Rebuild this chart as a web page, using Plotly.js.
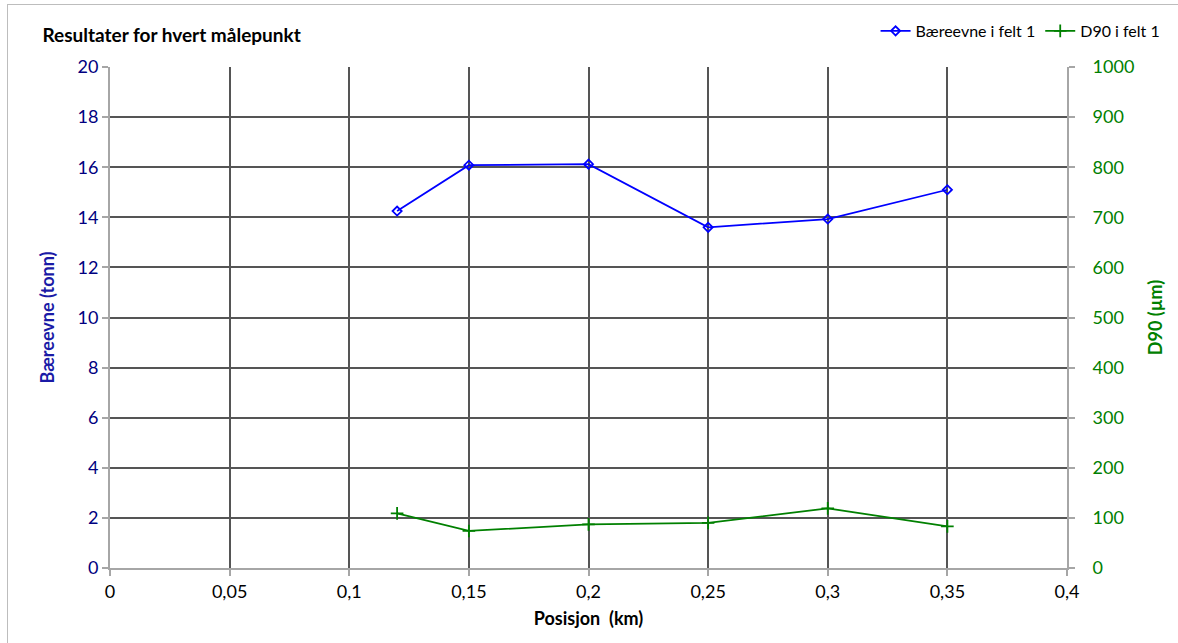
<!DOCTYPE html>
<html>
<head>
<meta charset="utf-8">
<script src="https://cdn.plot.ly/plotly-3.0.1.min.js"></script>
<style>
html,body{margin:0;padding:0;background:#fff;}
#wrap{position:relative;width:1178px;height:643px;overflow:hidden;}
#chart{position:absolute;left:0;top:0;width:1178px;height:643px;}
#frame{position:absolute;left:7px;top:4px;width:1300px;height:800px;border:1px solid #bdbdbd;pointer-events:none;}
</style>
</head>
<body>
<div id="wrap"><div id="chart"></div><div id="frame"></div></div>
<script>
const positions = [0.12, 0.15, 0.2, 0.25, 0.3, 0.35];
const baereevne = [14.25, 16.08, 16.12, 13.6, 13.93, 15.1];
const d90 = [109, 74, 87, 90, 119, 83];
const xTicks = [0, 0.05, 0.1, 0.15, 0.2, 0.25, 0.3, 0.35, 0.4];
const yLeftTicks = [0, 2, 4, 6, 8, 10, 12, 14, 16, 18, 20];
const yRightTicks = [0, 100, 200, 300, 400, 500, 600, 700, 800, 900, 1000];

const FONT = 'Lato, "Open Sans", "Liberation Sans", sans-serif';

const traces = [
  {
    x: positions, y: baereevne, name: 'Bæreevne i felt 1', type: 'scatter', mode: 'lines+markers',
    line: {color: '#0000ff', width: 1.8},
    marker: {symbol: 'diamond-open', size: 7, color: '#0000ff', line: {width: 1.8, color: '#0000ff'}},
    yaxis: 'y'
  },
  {
    x: positions, y: d90, name: 'D90 i felt 1', type: 'scatter', mode: 'lines+markers',
    line: {color: '#008000', width: 1.8},
    marker: {symbol: 'cross-thin-open', size: 9, color: '#008000', line: {width: 1.8, color: '#008000'}},
    yaxis: 'y2'
  }
];

const layout = {
  width: 1178, height: 643,
  margin: {l: 110, r: 107, t: 67, b: 75},
  paper_bgcolor: 'rgba(0,0,0,0)', plot_bgcolor: '#ffffff',
  font: {family: FONT, size: 18, color: '#000'},
  title: {
    text: '<b>Resultater for hvert målepunkt</b>',
    font: {family: FONT, size: 19, color: '#000'},
    xref: 'container', yref: 'container', x: 0.036, xanchor: 'left', y: 1 - 35/643, yanchor: 'middle'
  },
  showlegend: true,
  legend: {
    orientation: 'h', x: 1.103, xanchor: 'right', y: 1.072, yanchor: 'middle',
    font: {family: FONT, size: 16, color: '#000'}, bgcolor: 'rgba(0,0,0,0)',
    tracegroupgap: 0
  },
  xaxis: {
    range: [0, 0.4], tickvals: xTicks, ticktext: xTicks.map(v => String(v).replace('.', ',')),
    showgrid: true, gridcolor: '#555555', gridwidth: 2,
    showline: true, linecolor: '#a6a6a6', linewidth: 2, mirror: false,
    ticks: 'outside', ticklen: 6, tickcolor: '#a6a6a6', tickwidth: 2, zeroline: false,
    tickfont: {family: FONT, size: 18, color: '#000'},
    title: {text: '<b>Posisjon&nbsp; (km)</b>', font: {family: FONT, size: 18, color: '#000'}, standoff: 12}
  },
  yaxis: {
    range: [0, 20], tickvals: yLeftTicks,
    showgrid: true, gridcolor: '#555555', gridwidth: 2,
    showline: true, linecolor: '#a6a6a6', linewidth: 2,
    ticks: 'outside', ticklen: 6, tickcolor: '#a6a6a6', tickwidth: 2, zeroline: false,
    tickfont: {family: FONT, size: 18, color: '#000080'},
    title: {text: '<b>Bæreevne (tonn)</b>', font: {family: FONT, size: 18, color: '#1a1aa6'}, standoff: 18}
  },
  yaxis2: {
    range: [0, 1000], tickvals: yRightTicks, overlaying: 'y', side: 'right',
    showgrid: false, showline: true, linecolor: '#a6a6a6', linewidth: 2,
    ticks: 'outside', ticklen: 6, tickcolor: '#a6a6a6', tickwidth: 2, zeroline: false,
    ticklabelstandoff: 14,
    tickfont: {family: FONT, size: 18, color: '#008000'},
    title: {text: '<b>D90 (µm)</b>', font: {family: FONT, size: 18, color: '#008000'}, standoff: 16}
  }
};

Plotly.newPlot('chart', traces, layout, {displayModeBar: false, staticPlot: true});
</script>
</body>
</html>
